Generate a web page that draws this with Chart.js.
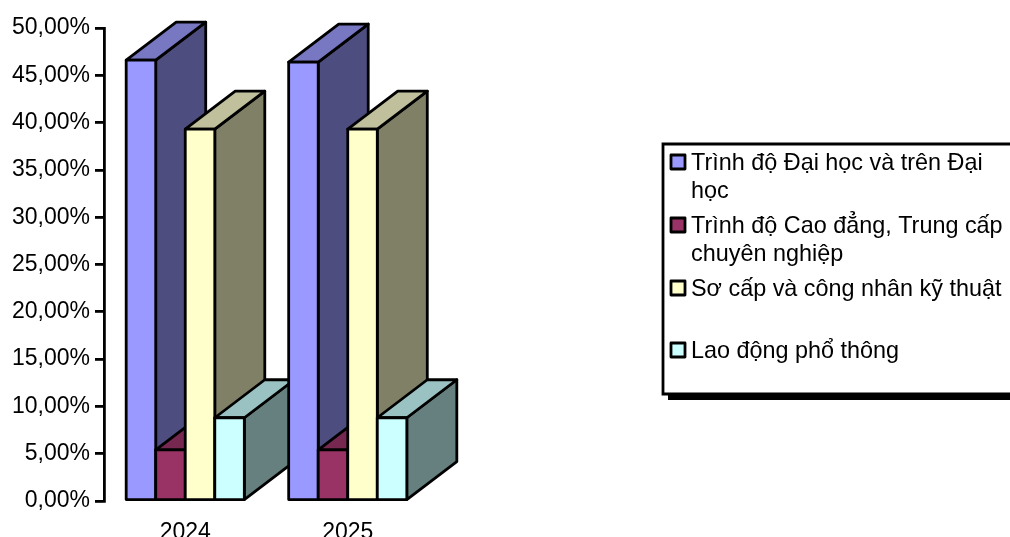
<!DOCTYPE html>
<html>
<head>
<meta charset="utf-8">
<style>
  html, body { margin: 0; padding: 0; background: #fff; }
  #wrap { width: 1010px; height: 537px; }
</style>
<script src="https://cdn.jsdelivr.net/npm/chart.js@4"></script>
</head>
<body>
<div id="wrap"><canvas id="grafica"></canvas></div>
<script>
// Datos
const years = ['2024', '2025'];
const seriesNames = [
  'Trình độ Đại học và trên Đại học',
  'Trình độ Cao đẳng, Trung cấp chuyên nghiệp',
  'Sơ cấp và công nhân kỹ thuật',
  'Lao động phổ thông'
];
const daiHoc = [46.6, 46.4];
const caoDang = [5.4, 5.4];
const soCap = [39.3, 39.3];
const phoThong = [8.8, 8.8];
const yTickLabels = ['0,00%', '5,00%', '10,00%', '15,00%', '20,00%', '25,00%', '30,00%', '35,00%', '40,00%', '45,00%', '50,00%'];

// Estilos
const FONT = '"Liberation Sans", Arial, sans-serif';
const colors = ['#9999FF', '#993366', '#FFFFCC', '#CCFFFF'];
const topColors = ['#7777C2', '#772850', '#C0C09C', '#9BC2C2'];
const sideColors = ['#4D4D80', '#4D1A33', '#808066', '#668080'];
const LINE = 2.8;
const DEPTH_X = 50;
const DEPTH_Y = 38;

function poly(ctx, pts, fill) {
  ctx.beginPath();
  pts.forEach((p, i) => i ? ctx.lineTo(p[0], p[1]) : ctx.moveTo(p[0], p[1]));
  ctx.closePath();
  ctx.fillStyle = fill;
  ctx.fill();
  ctx.stroke();
}

// Barras 3D, se pintan de izquierda a derecha por categoria
const bars3d = {
  id: 'bars3d',
  beforeDatasetsDraw(chart) {
    const ctx = chart.ctx;
    ctx.save();
    ctx.strokeStyle = '#000';
    ctx.lineWidth = LINE;
    ctx.lineJoin = 'round';
    years.forEach((year, c) => {
      chart.data.datasets.forEach((ds, d) => {
        const el = chart.getDatasetMeta(d).data[c];
        const l = el.x - el.width / 2;
        const r = el.x + el.width / 2;
        const t = el.y;
        const b = el.base;
        poly(ctx, [[r, t], [r + DEPTH_X, t - DEPTH_Y], [r + DEPTH_X, b - DEPTH_Y], [r, b]], sideColors[d]);
        poly(ctx, [[l, t], [l + DEPTH_X, t - DEPTH_Y], [r + DEPTH_X, t - DEPTH_Y], [r, t]], topColors[d]);
        poly(ctx, [[l, t], [r, t], [r, b], [l, b]], colors[d]);
      });
    });
    ctx.restore();
    return false;
  }
};

// Leyenda con sombra, texto partido a mano como en el original
const legendLines = [
  ['Trình độ Đại học và trên Đại', 'học'],
  ['Trình độ Cao đẳng, Trung cấp', 'chuyên nghiệp'],
  ['Sơ cấp và công nhân kỹ thuật'],
  ['Lao động phổ thông']
];
const legendRows = [162, 225, 288, 350];

const boxLegend = {
  id: 'boxLegend',
  afterDraw(chart) {
    const ctx = chart.ctx;
    ctx.save();
    ctx.fillStyle = '#000';
    ctx.fillRect(668, 394, 342, 6);
    ctx.fillStyle = '#fff';
    ctx.strokeStyle = '#000';
    ctx.lineWidth = LINE;
    ctx.fillRect(663, 144, 347, 250);
    ctx.beginPath();
    ctx.moveTo(1012, 144);
    ctx.lineTo(663, 144);
    ctx.lineTo(663, 394);
    ctx.lineTo(1012, 394);
    ctx.stroke();

    ctx.font = '23.4px ' + FONT;
    ctx.textBaseline = 'middle';
    ctx.lineJoin = 'round';
    legendLines.forEach((lines, i) => {
      const y = legendRows[i];
      ctx.fillStyle = colors[i];
      ctx.beginPath();
      ctx.rect(671, y - 7, 14, 14);
      ctx.fill();
      ctx.stroke();
      ctx.fillStyle = '#000';
      lines.forEach((line, j) => ctx.fillText(line, 691, y + 2 + j * 28));
    });
    ctx.restore();
  }
};

new Chart(document.getElementById('grafica'), {
  type: 'bar',
  data: {
    labels: years,
    datasets: [
      { label: seriesNames[0], data: daiHoc, backgroundColor: colors[0] },
      { label: seriesNames[1], data: caoDang, backgroundColor: colors[1] },
      { label: seriesNames[2], data: soCap, backgroundColor: colors[2] },
      { label: seriesNames[3], data: phoThong, backgroundColor: colors[3] }
    ]
  },
  options: {
    responsive: true,
    maintainAspectRatio: false,
    animation: false,
    layout: { padding: { top: 28, right: 581, bottom: 0, left: 0 } },
    plugins: {
      legend: { display: false },
      tooltip: { enabled: false }
    },
    datasets: { bar: { barPercentage: 1, categoryPercentage: 0.727 } },
    scales: {
      x: {
        grid: { display: false },
        border: { display: false },
        ticks: { color: '#000', padding: 10, font: { family: FONT, size: 23 }, maxRotation: 0 },
        afterFit(scale) { scale.height = 36; }
      },
      y: {
        min: 0,
        max: 50,
        grid: { drawOnChartArea: false, color: '#000', lineWidth: LINE, tickLength: 9 },
        border: { color: '#000', width: LINE },
        ticks: {
          stepSize: 5,
          color: '#000',
          padding: 5,
          font: { family: FONT, size: 23 },
          callback: (v, i) => yTickLabels[i]
        },
        afterFit(scale) { scale.width = 104; }
      }
    }
  },
  plugins: [bars3d, boxLegend]
});
</script>
</body>
</html>
